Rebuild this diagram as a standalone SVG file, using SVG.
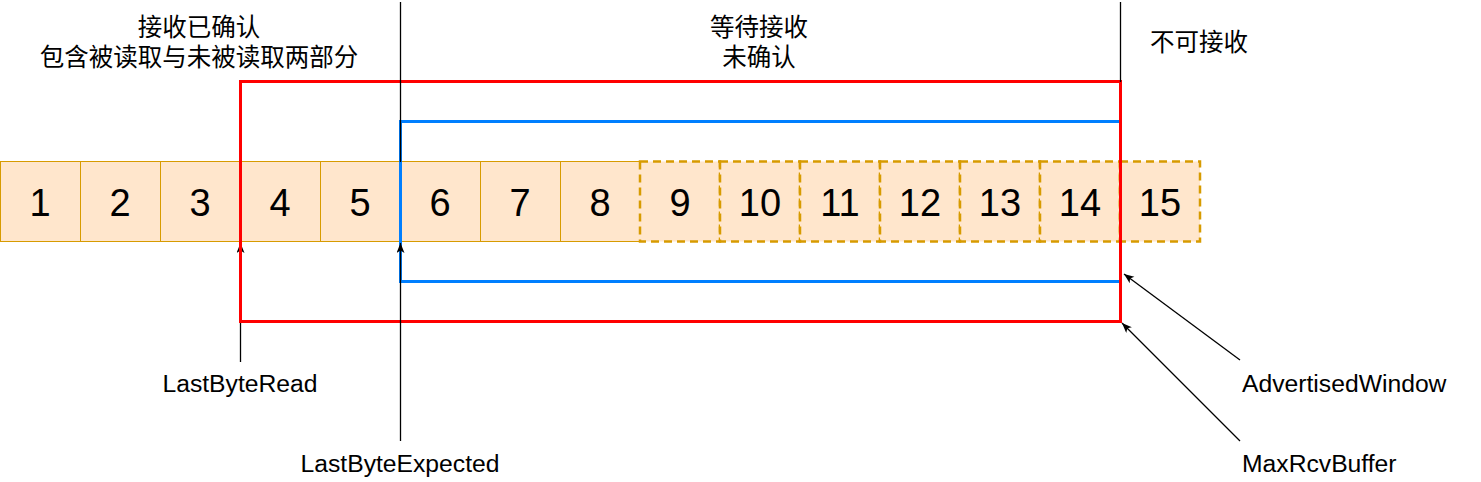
<svg xmlns="http://www.w3.org/2000/svg" width="1481" height="482" viewBox="0 0 1481 482">
<style>
.cell{fill:#ffe6cc;stroke:#d79b00;stroke-width:1}
.dcell{fill:#ffe6cc;stroke:#d79b00;stroke-width:2.5;stroke-dasharray:8 5}
.num{font-family:"Liberation Sans",Arial,sans-serif;font-size:38px;fill:#000;text-anchor:middle}
.lbl{font-family:"Liberation Sans",Arial,sans-serif;font-size:24.7px;fill:#000}
.cjk{font-family:"Liberation Sans","Noto Sans CJK SC",sans-serif;font-size:24.5px;fill:#000;text-anchor:middle}
.line{stroke:#000;stroke-width:1.3;fill:none}
</style>
<defs>
<marker id="arr" markerWidth="12" markerHeight="10" refX="10" refY="4" orient="auto" markerUnits="userSpaceOnUse">
<path d="M0,0 L10,4 L0,8 L2.5,4 Z" fill="#000"/>
</marker>
</defs>
<g id="cells">
<g id="c1"><rect class="cell" x="0.5" y="161.5" width="80" height="80"/><text class="num" x="40" y="216">1</text></g>
<g id="c2"><rect class="cell" x="80.5" y="161.5" width="80" height="80"/><text class="num" x="120" y="216">2</text></g>
<g id="c3"><rect class="cell" x="160.5" y="161.5" width="80" height="80"/><text class="num" x="200" y="216">3</text></g>
<g id="c4"><rect class="cell" x="240.5" y="161.5" width="80" height="80"/><text class="num" x="280" y="216">4</text></g>
<g id="c5"><rect class="cell" x="320.5" y="161.5" width="80" height="80"/><text class="num" x="360" y="216">5</text></g>
<g id="c6"><rect class="cell" x="400.5" y="161.5" width="80" height="80"/><text class="num" x="440" y="216">6</text></g>
<g id="c7"><rect class="cell" x="480.5" y="161.5" width="80" height="80"/><text class="num" x="520" y="216">7</text></g>
<g id="c8"><rect class="cell" x="560.5" y="161.5" width="80" height="80"/><text class="num" x="600" y="216">8</text></g>
<g id="c9"><rect class="dcell" x="640" y="161.5" width="80" height="80"/><text class="num" x="680" y="216">9</text></g>
<g id="c10"><rect class="dcell" x="720" y="161.5" width="80" height="80"/><text class="num" x="760" y="216">10</text></g>
<g id="c11"><rect class="dcell" x="800" y="161.5" width="80" height="80"/><text class="num" x="840" y="216">11</text></g>
<g id="c12"><rect class="dcell" x="880" y="161.5" width="80" height="80"/><text class="num" x="920" y="216">12</text></g>
<g id="c13"><rect class="dcell" x="960" y="161.5" width="80" height="80"/><text class="num" x="1000" y="216">13</text></g>
<g id="c14"><rect class="dcell" x="1040" y="161.5" width="80" height="80"/><text class="num" x="1080" y="216">14</text></g>
<g id="c15"><rect class="dcell" x="1120" y="161.5" width="80" height="80"/><text class="num" x="1160" y="216">15</text></g>
</g>
<g id="connectors-under">
<line class="line" x1="240.5" y1="362" x2="240.5" y2="243" marker-end="url(#arr)"/>
</g>
<g id="windows">
<rect id="advWindow" x="400.5" y="121.5" width="720" height="160" fill="none" stroke="#007fff" stroke-width="3"/>
<rect id="rcvBuffer" x="240.5" y="81.5" width="880" height="240" fill="none" stroke="#ff0000" stroke-width="3"/>
</g>
<g id="connectors">
<line class="line" x1="400.5" y1="2" x2="400.5" y2="162"/>
<line class="line" x1="1120.5" y1="2" x2="1120.5" y2="82"/>
<line class="line" x1="400.5" y1="441" x2="400.5" y2="243" marker-end="url(#arr)"/>
<line class="line" x1="1240" y1="360" x2="1124" y2="274" marker-end="url(#arr)"/>
<line class="line" x1="1240" y1="441" x2="1122" y2="323" marker-end="url(#arr)"/>
</g>
<g id="labels">
<text class="cjk" x="199" y="36">接收已确认</text>
<text class="cjk" x="199" y="66">包含被读取与未被读取两部分</text>
<text class="cjk" x="759" y="36">等待接收</text>
<text class="cjk" x="759" y="66">未确认</text>
<text class="cjk" x="1199" y="51">不可接收</text>
<text class="lbl" x="240" y="392" text-anchor="middle">LastByteRead</text>
<text class="lbl" x="400" y="472" text-anchor="middle">LastByteExpected</text>
<text class="lbl" x="1242" y="392">AdvertisedWindow</text>
<text class="lbl" x="1242" y="472">MaxRcvBuffer</text>
</g>
</svg>
